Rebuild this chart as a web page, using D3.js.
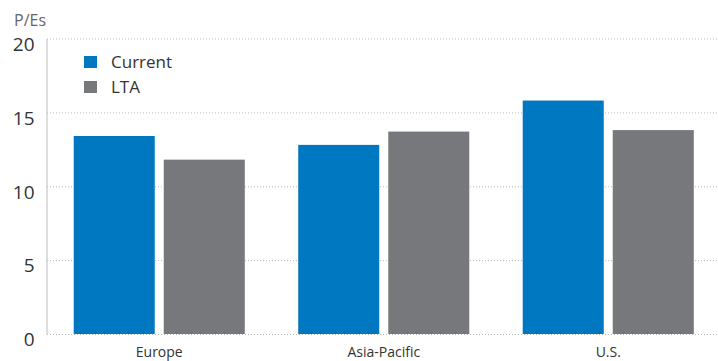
<!DOCTYPE html>
<html>
<head>
<meta charset="utf-8">
<script src="https://cdn.jsdelivr.net/npm/d3@7"></script>
<style>
  html, body { margin: 0; padding: 0; background: #fff; }
  svg { display: block; }
</style>
</head>
<body>
<svg id="chart" width="718" height="361"></svg>
<script>
// Regions and P/E values
const regions = ["Europe", "Asia-Pacific", "U.S."];
const seriesNames = ["Current", "LTA"];
const currentPE = [13.4, 12.8, 15.8];
const ltaPE = [11.8, 13.7, 13.8];
const yTicks = [0, 5, 10, 15, 20];
const colors = ["#0077c1", "#77787b"];

const rows = regions.map((r, i) => ({ region: r, values: [currentPE[i], ltaPE[i]] }));

const svg = d3.select("#chart");
const W = 718, H = 361;
const plot = { left: 47, right: 720.5, top: 38.5, bottom: 334 };

const y = d3.scaleLinear().domain([0, 20]).range([plot.bottom, plot.top]);
const x0 = d3.scaleBand().domain(regions).range([plot.left, plot.right])
  .paddingInner(0.238).paddingOuter(0.119);
const x1 = d3.scaleBand().domain(seriesNames).range([0, x0.bandwidth()])
  .paddingInner(0.1).paddingOuter(0);
const color = d3.scaleOrdinal().domain(seriesNames).range(colors);

// Dotted horizontal gridlines
svg.append("g")
  .selectAll("line")
  .data(yTicks)
  .join("line")
  .attr("x1", plot.left).attr("x2", W)
  .attr("y1", d => y(d) + 0.5).attr("y2", d => y(d) + 0.5)
  .attr("stroke", "#b8b8b8")
  .attr("stroke-width", 1)
  .attr("stroke-dasharray", "1,2");

// Y axis with tick labels
const yAxis = svg.append("g")
  .attr("transform", `translate(${plot.left - 0.5},0)`)
  .call(d3.axisLeft(y).tickValues(yTicks).tickSize(0).tickPadding(12));
yAxis.select(".domain").attr("stroke", "#c8c8c8").attr("stroke-width", 1.2);
yAxis.selectAll("text")
  .attr("font-family", "'Open Sans', sans-serif")
  .attr("font-size", 19)
  .attr("fill", "#333")
  .attr("dy", "0.62em");

// Axis title
svg.append("text")
  .attr("x", 14).attr("y", 26)
  .attr("font-family", "'Open Sans', sans-serif")
  .attr("font-size", 16)
  .attr("fill", "#666")
  .text("P/Es");

// Bars
svg.append("g")
  .selectAll("g")
  .data(rows)
  .join("g")
  .attr("transform", d => `translate(${x0(d.region)},0)`)
  .selectAll("rect")
  .data(d => d.values.map((v, i) => ({ key: seriesNames[i], value: v })))
  .join("rect")
  .attr("x", d => x1(d.key))
  .attr("width", x1.bandwidth())
  .attr("y", d => y(d.value))
  .attr("height", d => y(0) - y(d.value))
  .attr("fill", d => color(d.key));

// Category labels
const xAxis = svg.append("g")
  .attr("transform", `translate(0,${plot.bottom})`)
  .call(d3.axisBottom(x0).tickSize(0).tickPadding(13));
xAxis.select(".domain").remove();
xAxis.selectAll("text")
  .attr("font-family", "'Liberation Sans Narrow', 'Open Sans', sans-serif")
  .attr("font-size", 14)
  .attr("fill", "#333");

// Legend
const legend = svg.append("g")
  .selectAll("g")
  .data(seriesNames)
  .join("g")
  .attr("transform", (d, i) => `translate(84,${56 + i * 25})`);
legend.append("rect")
  .attr("width", 13).attr("height", 12)
  .attr("fill", d => color(d));
legend.append("text")
  .attr("x", 27).attr("y", 11.5)
  .attr("font-family", "'Open Sans', sans-serif")
  .attr("font-size", 17)
  .attr("fill", "#333")
  .text(d => d);
</script>
</body>
</html>
